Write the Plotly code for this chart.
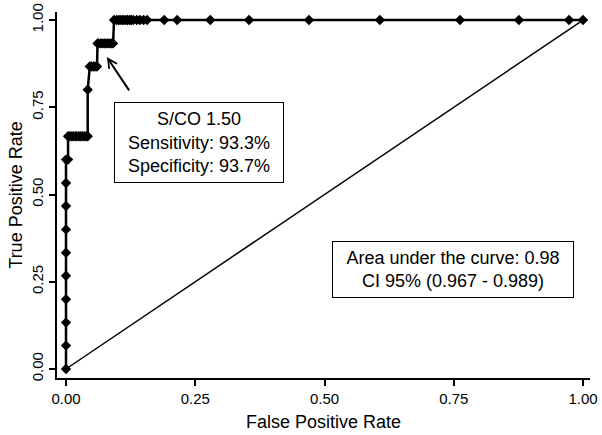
import plotly.graph_objects as go

# ROC curve points
fpr = [0.000, 0.000, 0.000, 0.000, 0.000, 0.000, 0.000, 0.000, 0.000, 0.000,
       0.004, 0.004, 0.007, 0.011, 0.014, 0.018, 0.021, 0.025, 0.028, 0.032,
       0.035, 0.039, 0.042,
       0.042,
       0.046, 0.049, 0.053, 0.056, 0.060,
       0.061, 0.063, 0.067, 0.070, 0.074, 0.077, 0.081, 0.084, 0.088, 0.091,
       0.093, 0.098, 0.102, 0.105, 0.109, 0.112, 0.116, 0.119, 0.123, 0.126,
       0.130, 0.137, 0.143, 0.150, 0.157, 0.190, 0.215, 0.279, 0.354, 0.470,
       0.607, 0.762, 0.876, 0.973, 1.000]
tpr = [0.000, 0.067, 0.133, 0.200, 0.267, 0.333, 0.400, 0.467, 0.533, 0.600,
       0.600, 0.667, 0.667, 0.667, 0.667, 0.667, 0.667, 0.667, 0.667, 0.667,
       0.667, 0.667, 0.667,
       0.800,
       0.867, 0.867, 0.867, 0.867, 0.867,
       0.933, 0.933, 0.933, 0.933, 0.933, 0.933, 0.933, 0.933, 0.933, 0.933,
       1.000, 1.000, 1.000, 1.000, 1.000, 1.000, 1.000, 1.000, 1.000, 1.000,
       1.000, 1.000, 1.000, 1.000, 1.000, 1.000, 1.000, 1.000, 1.000, 1.000,
       1.000, 1.000, 1.000, 1.000, 1.000]

chance_x = [0, 1]
chance_y = [0, 1]

tick_vals = [0.0, 0.25, 0.5, 0.75, 1.0]
tick_text = ["0.00", "0.25", "0.50", "0.75", "1.00"]

cutoff_text = "S/CO 1.50<br>Sensitivity: 93.3%<br>Specificity: 93.7%"
auc_text = "Area under the curve: 0.98<br>CI 95% (0.967 - 0.989)"
arrow_head = (0.079, 0.894)
arrow_tail = (0.124, 0.794)

FONT = "Liberation Sans, Arial, sans-serif"

fig = go.Figure()
fig.add_trace(go.Scatter(x=chance_x, y=chance_y, mode="lines",
                         line=dict(color="black", width=1.5), hoverinfo="skip",
                         showlegend=False))
fig.add_trace(go.Scatter(x=fpr, y=tpr, mode="lines+markers",
                         line=dict(color="black", width=2.5),
                         marker=dict(symbol="diamond", size=8, color="black"),
                         showlegend=False))

fig.add_annotation(x=0.257, y=0.649, xref="x", yref="y", text=cutoff_text,
                   showarrow=False, xanchor="center", yanchor="middle",
                   align="center", valign="middle", width=160, height=71,
                   bordercolor="black", borderwidth=1,
                   borderpad=4, bgcolor="white",
                   font=dict(family=FONT, size=18, color="black"))
fig.add_annotation(x=0.749, y=0.285, xref="x", yref="y", text=auc_text,
                   showarrow=False, xanchor="center", yanchor="middle",
                   align="center", valign="middle", width=232, height=47,
                   bordercolor="black", borderwidth=1,
                   borderpad=4, bgcolor="white",
                   font=dict(family=FONT, size=18, color="black"))
fig.add_annotation(x=arrow_head[0], y=arrow_head[1], ax=arrow_tail[0], ay=arrow_tail[1],
                   xref="x", yref="y", axref="x", ayref="y", text="",
                   showarrow=True, arrowhead=5, arrowsize=0.9, arrowwidth=2,
                   arrowcolor="black")

axis_common = dict(showline=True, linecolor="black", linewidth=1.5,
                   ticks="outside", ticklen=6, tickwidth=1.5, tickcolor="black",
                   showgrid=False, zeroline=False, mirror=False, automargin=False,
                   ticklabeloverflow="allow",
                   tickvals=tick_vals, ticktext=tick_text,
                   tickfont=dict(family=FONT, size=15, color="black"))

fig.update_layout(
    width=602, height=435,
    margin=dict(l=57, r=12, t=12, b=57),
    paper_bgcolor="white", plot_bgcolor="white",
    xaxis=dict(range=[-0.0174, 1.0135],
               title=dict(text="False Positive Rate", standoff=10,
                          font=dict(family=FONT, size=18, color="black")),
               **axis_common),
    yaxis=dict(range=[-0.0258, 1.023], tickangle=-90,
               title=dict(text="True Positive Rate", standoff=2,
                          font=dict(family=FONT, size=18, color="black")),
               **axis_common),
)

# remove the browser's default 8px page margin so the figure fills the window
fig.write_html("out.html", config={"displayModeBar": False},
               post_script="document.body.style.margin='0';")
